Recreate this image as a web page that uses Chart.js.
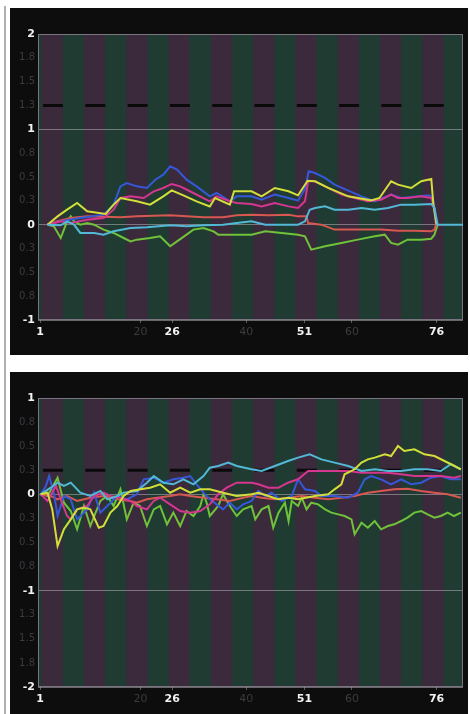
<!DOCTYPE html>
<html>
<head>
<meta charset="utf-8">
<script src="https://cdn.jsdelivr.net/npm/chart.js@4.4.0/dist/chart.umd.min.js"></script>
<style>
  html, body { margin: 0; padding: 0; background: #fff; width: 470px; height: 714px; overflow: hidden; }
  .rule { position: absolute; left: 4px; top: 6px; width: 2px; height: 708px; background: #b0b0b0; }
  .panel { position: absolute; left: 10px; width: 458px; background: #0d0d0d; }
  #p1 { top: 8px; height: 347px; }
  #p2 { top: 372px; height: 342px; }
  canvas { display: block; }
</style>
</head>
<body>
<div class="rule"></div>
<div class="panel" id="p1"><canvas id="top-chart" width="458" height="347"></canvas></div>
<div class="panel" id="p2"><canvas id="bottom-chart" width="458" height="342"></canvas></div>
<script>
// x ticks: bright ones get a label in white, the rest are dim
const xTickValues = [1, 20, 26, 40, 51, 60, 76];
const xBrightTicks = [1, 26, 51, 76];
const targetTop = 1.25;
const targetBottom = 0.25;

// ---- top panel ----
const topYellowX = [2.4, 4.3, 6.1, 8.0, 9.9, 13.4, 14.9, 16.2, 19.3, 21.8, 24.3, 25.9, 28.1, 30.6, 33.1, 34.1, 36.9, 37.7, 41, 42.9, 45.4, 48, 49.8, 51.6, 53, 55.5, 59.3, 63.6, 65.2, 67.4, 68.7, 71.2, 73.1, 75, 75.4, 76];
const topYellowY = [0, 0.087, 0.157, 0.227, 0.14, 0.112, 0.21, 0.28, 0.245, 0.21, 0.297, 0.36, 0.308, 0.245, 0.19, 0.28, 0.21, 0.35, 0.35, 0.297, 0.385, 0.35, 0.308, 0.46, 0.455, 0.385, 0.297, 0.255, 0.28, 0.455, 0.42, 0.385, 0.455, 0.48, 0.21, 0];

const topBlueX = [2.4, 4.9, 8.6, 13.0, 14.9, 16.2, 17.4, 19.3, 21.2, 22.8, 24.3, 25.6, 26.9, 28.7, 30.6, 33.1, 34.4, 36.9, 38.2, 41, 42.9, 45.4, 48, 49.8, 51.2, 51.8, 53, 54.9, 56.7, 59.3, 61.8, 64.3, 67.4, 69.3, 74.6, 75.3, 75.9];
const topBlueY = [0, 0.035, 0.07, 0.105, 0.21, 0.402, 0.437, 0.402, 0.385, 0.472, 0.525, 0.612, 0.577, 0.472, 0.402, 0.297, 0.332, 0.245, 0.297, 0.297, 0.262, 0.315, 0.28, 0.252, 0.385, 0.56, 0.542, 0.49, 0.42, 0.357, 0.297, 0.245, 0.315, 0.28, 0.308, 0.28, 0];

const topMagentaX = [2.4, 4.9, 6.8, 9.9, 13.0, 14.9, 16.2, 18.1, 20.6, 22.5, 24.3, 25.9, 27.5, 30, 33.1, 34.4, 36.9, 38.2, 41, 42.9, 45.4, 48, 49.8, 51.1, 51.7, 53, 55.5, 58, 60.5, 63, 65.5, 67.4, 68.7, 70.5, 73, 75, 75.6, 75.9];
const topMagentaY = [0, 0.035, 0.017, 0.052, 0.07, 0.157, 0.28, 0.297, 0.28, 0.35, 0.385, 0.427, 0.402, 0.332, 0.245, 0.297, 0.245, 0.227, 0.217, 0.192, 0.227, 0.192, 0.175, 0.245, 0.455, 0.455, 0.385, 0.315, 0.28, 0.245, 0.262, 0.315, 0.28, 0.28, 0.297, 0.28, 0.175, 0];

const topRedX = [2.4, 4.3, 6.8, 9.9, 16.2, 19.3, 25.6, 28.7, 31.9, 35.6, 38.2, 41, 44.2, 48, 49.8, 51.4, 51.7, 54.2, 56.7, 59.3, 65.5, 68.7, 71.8, 75, 75.6, 75.9];
const topRedY = [0, 0.035, 0.07, 0.087, 0.077, 0.087, 0.098, 0.087, 0.077, 0.077, 0.098, 0.105, 0.098, 0.105, 0.087, 0.087, 0.017, 0, -0.052, -0.052, -0.052, -0.063, -0.063, -0.07, -0.052, 0];

const topCyanX = [2.4, 4.9, 6.1, 7.4, 8.6, 11.2, 13.0, 14.9, 18.1, 21.2, 25.6, 28.7, 31.9, 35.6, 38.2, 41, 43.6, 46.7, 49.8, 51.1, 52, 53, 54.9, 56.7, 59.3, 61.8, 64.3, 66.8, 69.3, 71.8, 75, 75.6, 76.2, 81];
const topCyanY = [0, -0.007, 0.035, 0, -0.087, -0.087, -0.105, -0.07, -0.035, -0.028, -0.007, -0.017, -0.007, 0, 0.017, 0.035, 0, 0, 0, 0.035, 0.157, 0.175, 0.192, 0.157, 0.157, 0.175, 0.157, 0.175, 0.21, 0.21, 0.217, 0.175, 0, 0];

const topGreenX = [2.4, 3.6, 4.9, 6.1, 6.8, 7.4, 8.6, 9.9, 11.2, 13, 14.9, 16.8, 18.1, 19.3, 21.8, 23.7, 25.6, 26.9, 28.7, 30, 31.9, 33.8, 34.7, 36.9, 41, 43.6, 46.7, 49.8, 51.1, 52.3, 54.9, 58, 61.1, 64.3, 66.2, 67.4, 68.7, 70.5, 73.1, 75, 75.6, 76.2];
const topGreenY = [0, -0.017, -0.14, 0.035, 0.087, 0.035, 0, 0.017, 0, -0.052, -0.087, -0.14, -0.175, -0.157, -0.14, -0.122, -0.227, -0.175, -0.105, -0.052, -0.035, -0.07, -0.105, -0.105, -0.105, -0.07, -0.087, -0.105, -0.122, -0.262, -0.227, -0.192, -0.157, -0.122, -0.105, -0.192, -0.21, -0.157, -0.157, -0.147, -0.105, 0];

// ---- bottom panel ----
const botCyanX = [1.1, 3, 4.3, 5.5, 6.8, 8.6, 10.5, 12.4, 13.7, 15.6, 16.8, 19.3, 21.2, 22.5, 24.3, 26.2, 28.1, 30, 31.9, 33.1, 34.7, 36.6, 38.2, 41, 42.9, 45.4, 47.9, 49.8, 52, 54.2, 56.7, 59.3, 61.8, 64.3, 66.8, 69.3, 71.8, 74.3, 76.8, 78.7, 80.6];
const botCyanY = [0, 0.069, 0.121, 0.087, 0.121, 0.017, -0.017, 0.035, -0.052, -0.017, 0.017, 0.035, 0.121, 0.19, 0.121, 0.104, 0.156, 0.104, 0.19, 0.277, 0.294, 0.329, 0.294, 0.26, 0.242, 0.294, 0.346, 0.381, 0.415, 0.363, 0.329, 0.294, 0.242, 0.26, 0.242, 0.242, 0.26, 0.26, 0.242, 0.312, 0.26];

const botYellowX = [1.1, 2.4, 3.3, 4.3, 5.5, 6.8, 8, 9.3, 10.5, 12.1, 13, 14.3, 15.6, 16.8, 18.1, 20, 21.8, 23.7, 25.6, 27.5, 29.4, 31.3, 33.1, 35.6, 38.2, 41, 42.3, 44.2, 46.1, 48, 49.8, 53, 55.5, 56.7, 58, 58.6, 60.5, 61.8, 63, 64.3, 66.2, 67.4, 68.7, 69.9, 71.8, 73.7, 75.6, 77.5, 79.4, 80.6];
const botYellowY = [0, 0.017, -0.156, -0.537, -0.363, -0.26, -0.156, -0.138, -0.156, -0.346, -0.329, -0.19, -0.121, -0.017, 0.035, 0.052, 0.069, 0.104, 0.017, 0.069, 0.017, 0.052, 0.052, 0.017, -0.017, 0, 0.017, -0.017, -0.052, -0.035, -0.052, -0.017, 0, 0.052, 0.104, 0.208, 0.26, 0.329, 0.363, 0.381, 0.415, 0.398, 0.502, 0.45, 0.467, 0.415, 0.398, 0.346, 0.294, 0.26];

const botBlueX = [1.1, 2.1, 2.7, 3.6, 4.3, 5.5, 6.8, 8, 9.9, 11.2, 12.4, 13.7, 15.6, 17.4, 19.3, 20.6, 22.5, 24.3, 26.2, 28.1, 29.4, 30.6, 31.9, 33.1, 34.4, 35.6, 36.9, 38.2, 39.4, 41, 42.3, 43.6, 44.8, 46.7, 48.6, 49.8, 51.1, 53, 54.2, 56.7, 59.3, 61.1, 62.4, 63.6, 65.5, 67.4, 69.3, 71.2, 73.1, 74.9, 76.8, 78.7, 80.6];
const botBlueY = [0, 0.087, 0.19, 0.017, -0.225, -0.017, -0.052, -0.26, -0.156, 0.017, -0.19, -0.121, -0.017, -0.052, 0, 0.156, 0.173, 0.121, 0.156, 0.173, 0.19, 0.104, 0.017, -0.052, -0.104, -0.156, -0.087, -0.156, -0.104, -0.069, 0.035, -0.017, 0.017, -0.069, -0.017, 0.156, 0.052, 0.035, -0.017, -0.017, -0.035, 0.017, 0.156, 0.19, 0.156, 0.104, 0.156, 0.104, 0.121, 0.173, 0.19, 0.156, 0.156];

const botMagentaX = [1.1, 2.4, 4, 4.9, 6.1, 6.8, 8, 9.9, 11.2, 13, 14.3, 16.2, 18.1, 19.3, 21.2, 22.5, 23.7, 25.6, 27.5, 29.4, 31.3, 33.1, 34.7, 36.3, 38.2, 41, 42.3, 44.2, 46.1, 47.9, 49.8, 51.7, 54.2, 56.7, 59.3, 61.8, 64.3, 66.8, 69.3, 71.8, 74.3, 76.8, 79.3, 80.6];
const botMagentaY = [0, -0.069, 0.087, -0.052, -0.225, -0.26, -0.156, -0.121, -0.017, 0.017, -0.017, -0.035, -0.069, -0.121, -0.156, -0.069, -0.035, -0.104, -0.173, -0.19, -0.173, -0.104, 0, 0.069, 0.121, 0.121, 0.104, 0.069, 0.069, 0.121, 0.156, 0.242, 0.242, 0.242, 0.242, 0.225, 0.225, 0.225, 0.208, 0.19, 0.19, 0.19, 0.173, 0.19];

const botRedX = [1.1, 3, 4.3, 6.1, 8, 10.5, 13, 15.6, 18.1, 19.3, 21.2, 23.1, 25.6, 27.5, 29.4, 31.9, 34.4, 36.9, 39.4, 41, 42.9, 45.4, 47.9, 50.5, 53, 55.5, 58, 60.5, 63, 65.5, 68, 70.5, 73.1, 75.6, 78.1, 80.6];
const botRedY = [0, -0.017, -0.052, -0.017, -0.069, -0.035, -0.017, -0.052, -0.069, -0.087, -0.052, -0.035, -0.017, 0, -0.017, -0.035, -0.052, -0.069, -0.035, -0.017, -0.035, -0.052, -0.035, -0.017, -0.035, -0.052, -0.035, -0.017, 0.017, 0.035, 0.052, 0.059, 0.035, 0.017, 0, -0.035];

const botGreenX = [1.1, 2.4, 4.3, 5.5, 6.8, 8, 9.3, 10.5, 11.5, 12.4, 13.7, 14.9, 16.2, 17.4, 18.7, 19.9, 21.2, 22.5, 23.7, 25, 26.2, 27.5, 28.7, 30, 31.3, 31.9, 32.5, 33.1, 34.7, 35.6, 36.9, 38.2, 39.4, 41, 41.7, 42.9, 44.2, 45.1, 46.1, 47.3, 48, 48.6, 49.8, 50.5, 51.4, 52.3, 53.6, 54.9, 56.1, 57.4, 58.6, 59.9, 60.5, 61.8, 63, 64.3, 65.5, 66.8, 68, 69.3, 70.5, 71.8, 73.1, 74.3, 75.6, 76.8, 78.1, 79.3, 80.6];
const botGreenY = [0, -0.017, 0.173, -0.087, -0.173, -0.363, -0.121, -0.329, -0.19, -0.069, -0.017, -0.121, 0.052, -0.26, -0.087, -0.121, -0.329, -0.156, -0.121, -0.311, -0.19, -0.329, -0.173, -0.225, -0.121, 0, -0.087, -0.225, -0.121, 0, -0.121, -0.225, -0.156, -0.121, -0.26, -0.156, -0.121, -0.346, -0.19, -0.087, -0.277, -0.069, -0.121, -0.035, -0.156, -0.087, -0.104, -0.156, -0.19, -0.208, -0.225, -0.26, -0.415, -0.294, -0.346, -0.277, -0.363, -0.329, -0.311, -0.277, -0.242, -0.19, -0.173, -0.208, -0.242, -0.225, -0.19, -0.225, -0.19];

const COLORS = {
  yellow: '#d2df3a',
  blue: '#3558d8',
  magenta: '#d5368f',
  red: '#d65850',
  cyan: '#53b8d6',
  green: '#70c23a',
  target: '#0a0a0a',
  bandA: '#3a2a3c',
  bandB: '#1f3b32'
};

function pts(xs, ys) {
  return xs.map((x, i) => ({ x, y: ys[i] }));
}

const isMajorX = (c) => !!(c.tick && xBrightTicks.includes(c.tick.value));
const isMajorY = (c) => !!(c.tick && Number.isInteger(c.tick.value));

// alternating vertical bands, 4 units wide
const stripesPlugin = {
  id: 'stripes',
  beforeDraw(chart) {
    const { ctx, chartArea } = chart;
    const xs = chart.scales.x;
    ctx.save();
    ctx.fillStyle = COLORS.bandB;
    ctx.fillRect(chartArea.left, chartArea.top, chartArea.width, chartArea.height);
    ctx.fillStyle = COLORS.bandA;
    for (let s = -6.7; s < xs.max; s += 8) {
      const a = Math.max(xs.getPixelForValue(s), chartArea.left);
      const b = Math.min(xs.getPixelForValue(s + 4), chartArea.right);
      if (b > a) ctx.fillRect(a, chartArea.top, b - a, chartArea.height);
    }
    ctx.restore();
  },
  beforeDatasetsDraw(chart) {
    const { ctx, chartArea } = chart;
    ctx.save();
    ctx.strokeStyle = '#7a7480';
    ctx.lineWidth = 1;
    ctx.strokeRect(chartArea.left + 0.5, chartArea.top + 0.5, chartArea.width - 1, chartArea.height - 1);
    ctx.restore();
  }
};

function line(color, data, extra = {}) {
  return {
    data,
    borderColor: color,
    backgroundColor: color,
    borderWidth: 2,
    pointRadius: 0,
    tension: 0,
    ...extra
  };
}

function makeChart(id, yMin, yMax, target, series, xHeight) {
  return new Chart(document.getElementById(id), {
    type: 'line',
    data: {
      datasets: [
        ...series,
        line(COLORS.target, [{ x: 0.6, y: target }, { x: 81, y: target }], {
          borderWidth: 3, borderDash: [20, 22.3], borderDashOffset: 37.3
        })
      ]
    },
    options: {
      responsive: false,
      animation: false,
      events: [],
      layout: { padding: { left: 0, right: 5, top: 26, bottom: 0 } },
      scales: {
        x: {
          type: 'linear',
          min: 0.6,
          max: 81,
          afterBuildTicks(scale) { scale.ticks = xTickValues.map((v) => ({ value: v })); },
          afterFit(scale) { scale.height = xHeight; },
          border: { display: false },
          grid: { drawOnChartArea: false, drawTicks: true, tickLength: 3, color: '#5a5a5a' },
          ticks: {
            autoSkip: false,
            maxRotation: 0,
            padding: 3,
            color: (c) => isMajorX(c) ? '#f2f2f2' : '#3c3c3c',
            font: (c) => ({ family: 'DejaVu Sans', size: 11, weight: isMajorX(c) ? 'bold' : 'normal' }),
            callback: (v) => String(v)
          }
        },
        y: {
          min: yMin,
          max: yMax,
          afterFit(scale) { scale.width = 28; },
          border: { display: false },
          grid: {
            drawTicks: false,
            color: (c) => isMajorY(c) ? 'rgba(180,175,185,0.55)' : 'rgba(0,0,0,0)'
          },
          ticks: {
            stepSize: 0.25,
            autoSkip: false,
            padding: 3,
            color: (c) => isMajorY(c) ? '#f2f2f2' : '#3e3a40',
            font: (c) => ({ family: 'DejaVu Sans', size: isMajorY(c) ? 11 : 10, weight: isMajorY(c) ? 'bold' : 'normal' }),
            callback: (v) => Number.isInteger(v) ? String(v) : Math.abs(v).toFixed(1)
          }
        }
      },
      plugins: { legend: { display: false }, tooltip: { enabled: false } }
    },
    plugins: [stripesPlugin]
  });
}

makeChart('top-chart', -1, 2, targetTop, [
  line(COLORS.cyan, pts(topCyanX, topCyanY)),
  line(COLORS.yellow, pts(topYellowX, topYellowY)),
  line(COLORS.magenta, pts(topMagentaX, topMagentaY)),
  line(COLORS.blue, pts(topBlueX, topBlueY)),
  line(COLORS.red, pts(topRedX, topRedY)),
  line(COLORS.green, pts(topGreenX, topGreenY))
], 35);

makeChart('bottom-chart', -2, 1, targetBottom, [
  line(COLORS.yellow, pts(botYellowX, botYellowY)),
  line(COLORS.cyan, pts(botCyanX, botCyanY)),
  line(COLORS.magenta, pts(botMagentaX, botMagentaY)),
  line(COLORS.blue, pts(botBlueX, botBlueY)),
  line(COLORS.red, pts(botRedX, botRedY)),
  line(COLORS.green, pts(botGreenX, botGreenY))
], 27);
</script>
</body>
</html>
